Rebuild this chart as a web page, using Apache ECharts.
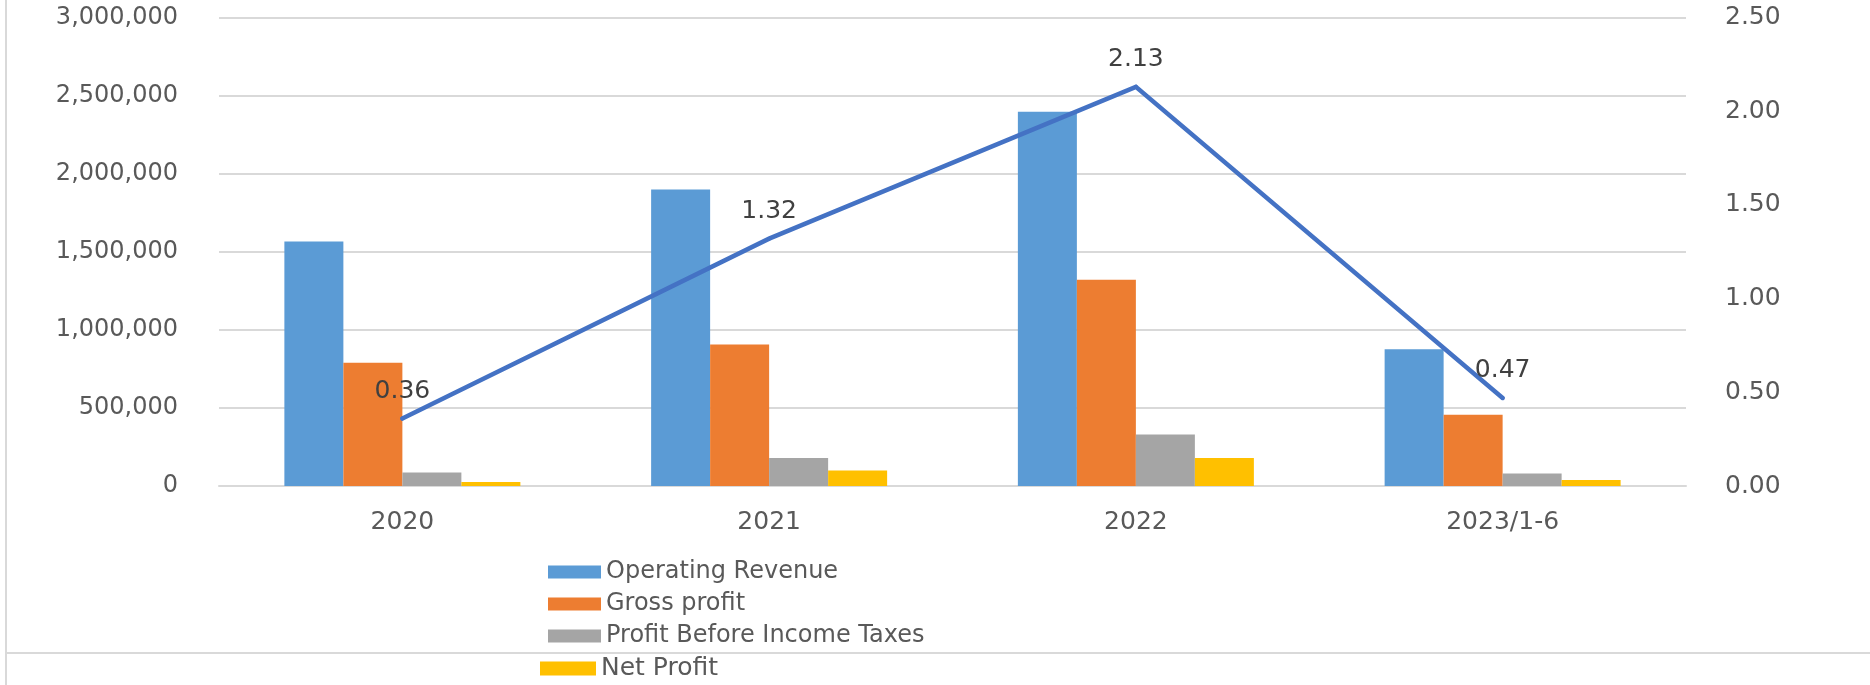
<!DOCTYPE html>
<html>
<head>
<meta charset="utf-8">
<script src="https://cdn.jsdelivr.net/npm/echarts@6/dist/echarts.min.js"></script>
<style>
  html, body { margin: 0; padding: 0; background: #ffffff; }
  #wrap { position: relative; width: 1870px; height: 685px; overflow: hidden; }
  #chart { position: absolute; left: 0; top: 0; width: 1870px; height: 685px; }
  #vline { position: absolute; left: 5px; top: 0; width: 2px; height: 685px; background: #d9d9d9; }
  #hline { position: absolute; left: 5px; top: 652px; width: 1865px; height: 2px; background: #d9d9d9; }
</style>
</head>
<body>
<div id="wrap">
  <div id="vline"></div>
  <div id="hline"></div>
  <div id="chart"></div>
</div>
<script>
const categories = ['2020', '2021', '2022', '2023/1-6'];
const operatingRevenue = [1566000, 1899000, 2397000, 875000];
const grossProfit = [790000, 906000, 1320000, 456000];
const profitBeforeTaxes = [86000, 180000, 329000, 80000];
const netProfit = [26000, 100000, 180000, 39000];
const eps = [0.36, 1.32, 2.13, 0.47];
const seriesNames = ['Operating Revenue', 'Gross profit', 'Profit Before Income Taxes', 'Net Profit'];

const FONT = 'DejaVu Sans';
const chart = echarts.init(document.getElementById('chart'), null, { renderer: 'canvas' });

const barSeries = (name, data, color) => ({
  name: name,
  type: 'bar',
  data: data,
  yAxisIndex: 0,
  barWidth: 59,
  barGap: '0%',
  itemStyle: { color: color },
  emphasis: { disabled: true }
});

chart.setOption({
  animation: false,
  backgroundColor: 'transparent',
  textStyle: { fontFamily: FONT },
  grid: { left: 219, right: 184, top: 17.5, bottom: 199, containLabel: false },
  legend: [
    {
      data: seriesNames.slice(0, 3),
      orient: 'vertical',
      left: 543,
      top: 555,
      icon: 'rect',
      itemWidth: 53,
      itemHeight: 13,
      itemGap: 8,
      selectedMode: false,
      textStyle: { fontFamily: FONT, fontSize: 24, color: '#595959' }
    },
    {
      data: seriesNames.slice(3),
      orient: 'vertical',
      left: 535,
      top: 651,
      icon: 'rect',
      itemWidth: 56,
      itemHeight: 14,
      selectedMode: false,
      textStyle: { fontFamily: FONT, fontSize: 25, color: '#595959' }
    }
  ],
  xAxis: {
    type: 'category',
    data: categories,
    axisTick: { show: false },
    axisLine: { show: true, lineStyle: { color: '#d9d9d9', width: 2 } },
    axisLabel: { fontFamily: FONT, fontSize: 25, color: '#595959', margin: 24 }
  },
  yAxis: [
    {
      type: 'value',
      min: 0,
      max: 3000000,
      interval: 500000,
      axisLine: { show: false },
      axisTick: { show: false },
      splitLine: { lineStyle: { color: '#d9d9d9', width: 2 } },
      axisLabel: {
        fontFamily: FONT, fontSize: 24, color: '#595959', margin: 41,
        formatter: v => v.toLocaleString('en-US')
      }
    },
    {
      type: 'value',
      min: 0,
      max: 2.5,
      interval: 0.5,
      position: 'right',
      axisLine: { show: false },
      axisTick: { show: false },
      splitLine: { show: false },
      axisLabel: {
        fontFamily: FONT, fontSize: 25, color: '#595959', margin: 39,
        formatter: v => v.toFixed(2)
      }
    }
  ],
  series: [
    barSeries(seriesNames[0], operatingRevenue, '#5B9BD5'),
    barSeries(seriesNames[1], grossProfit, '#ED7D31'),
    barSeries(seriesNames[2], profitBeforeTaxes, '#A5A5A5'),
    barSeries(seriesNames[3], netProfit, '#FFC000'),
    {
      name: 'EPS',
      type: 'line',
      yAxisIndex: 1,
      data: eps,
      showSymbol: true,
      showAllSymbol: true,
      symbol: 'circle',
      symbolSize: 4,
      lineStyle: { color: '#4472C4', width: 4.5, cap: 'round', join: 'miter' },
      itemStyle: { color: '#4472C4', borderWidth: 0 },
      label: {
        show: true,
        position: 'top',
        distance: 13,
        fontFamily: FONT,
        fontSize: 25,
        color: '#404040',
        formatter: p => Number(p.value).toFixed(2)
      },
      labelLayout: { hideOverlap: false },
      emphasis: { disabled: true },
      z: 5
    }
  ]
});
</script>
</body>
</html>
